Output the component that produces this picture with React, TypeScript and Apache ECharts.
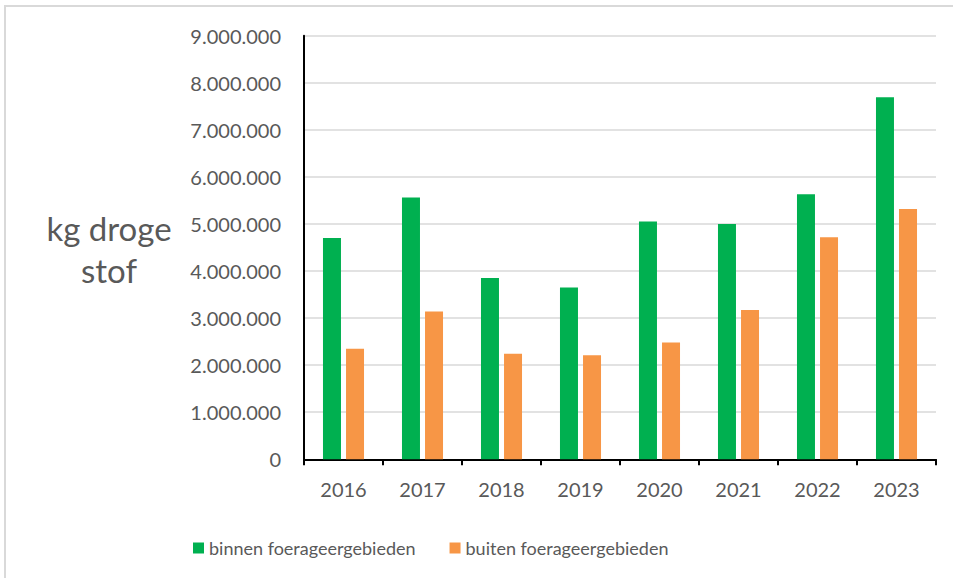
import React, { useEffect, useRef } from "react";
import * as echarts from "echarts";

const years = ["2016", "2017", "2018", "2019", "2020", "2021", "2022", "2023"];
const binnen = [4700000, 5560000, 3850000, 3650000, 5050000, 5000000, 5630000, 7690000];
const buiten = [2350000, 3140000, 2240000, 2210000, 2480000, 3170000, 4720000, 5320000];
const seriesNames = ["binnen foerageergebieden", "buiten foerageergebieden"];
const yAxisTitle = "kg droge\nstof";

const FONT = "Lato";

function fmt(v: number): string {
  return String(v).replace(/\B(?=(\d{3})+(?!\d))/g, ".");
}

export default function App() {
  const ref = useRef<HTMLDivElement>(null);
  useEffect(() => {
    if (!ref.current) return;
    const chart = echarts.init(ref.current, null, { renderer: "svg" });
    chart.setOption({
      animation: false,
      backgroundColor: "#ffffff",
      textStyle: { fontFamily: FONT },
      grid: { left: 304, right: 17, top: 35.7, bottom: 118.7, containLabel: false },
      legend: {
        left: 188,
        top: 534,
        itemWidth: 11,
        itemHeight: 11,
        itemGap: 34,
        icon: "rect",
        textStyle: { fontFamily: FONT, fontSize: 18, color: "#595959" },
        data: seriesNames,
      },
      xAxis: {
        type: "category",
        data: years,
        axisLine: { lineStyle: { color: "#000000", width: 2 } },
        axisTick: { show: true, length: 6, lineStyle: { color: "#000000", width: 2 } },
        axisLabel: { fontFamily: FONT, fontSize: 20, color: "#595959", margin: 20 },
      },
      yAxis: {
        type: "value",
        min: 0,
        max: 9000000,
        interval: 1000000,
        axisLine: { show: true, lineStyle: { color: "#000000", width: 2 } },
        axisTick: { show: false },
        splitLine: { lineStyle: { color: "#d9d9d9", width: 1.5 } },
        axisLabel: {
          fontFamily: FONT,
          fontSize: 20,
          color: "#595959",
          margin: 23,
          formatter: (v: number) => fmt(v),
        },
      },
      series: [
        {
          name: seriesNames[0],
          type: "bar",
          data: binnen,
          barWidth: 18,
          barGap: "28%",
          itemStyle: { color: "#00B050" },
        },
        {
          name: seriesNames[1],
          type: "bar",
          data: buiten,
          barWidth: 18,
          itemStyle: { color: "#F79646" },
        },
      ],
      graphic: [
        {
          type: "polyline",
          shape: { points: [[5, 578], [5, 6], [953, 6]] },
          style: { stroke: "#d9d9d9", lineWidth: 2, fill: "none" },
          silent: true,
        },
        {
          type: "text",
          x: 109,
          y: 249,
          style: {
            text: yAxisTitle,
            fontFamily: FONT,
            fontSize: 33,
            lineHeight: 42,
            fill: "#595959",
            align: "center",
            verticalAlign: "middle",
          },
        },
      ],
    });
    return () => chart.dispose();
  }, []);
  return (
    <div
      ref={ref}
      style={{ position: "fixed", left: 0, top: 0, width: 953, height: 578 }}
    />
  );
}
